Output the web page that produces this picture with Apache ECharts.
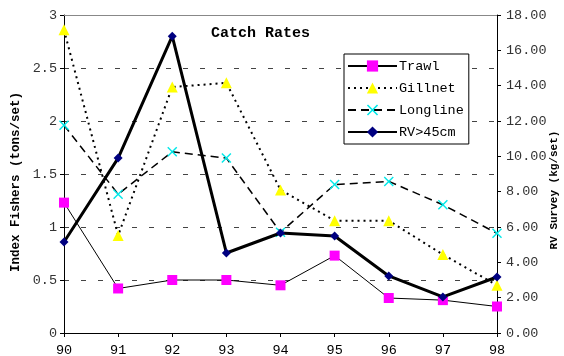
<!DOCTYPE html>
<html>
<head>
<meta charset="utf-8">
<script src="https://cdn.jsdelivr.net/npm/echarts@6/dist/echarts.min.js"></script>
<style>
html, body { margin: 0; padding: 0; background: #fff; }
#catchRatesChart { width: 564px; height: 356px; }
</style>
</head>
<body>
<div id="catchRatesChart"></div>
<script>
var years = ['90', '91', '92', '93', '94', '95', '96', '97', '98'];
var trawl = [1.23, 0.42, 0.50, 0.50, 0.45, 0.73, 0.33, 0.31, 0.25];
var gillnet = [2.86, 0.92, 2.32, 2.36, 1.35, 1.06, 1.06, 0.74, 0.45];
var longline = [1.96, 1.31, 1.71, 1.65, 0.95, 1.40, 1.43, 1.21, 0.94];
var rvSurvey = [5.15, 9.9, 16.8, 4.53, 5.66, 5.49, 3.23, 2.04, 3.17];

var monoFont = 'Liberation Mono';
var xCross = 'path://M0,1L1,0L5,4L9,0L10,1L6,5L10,9L9,10L5,6L1,10L0,9L4,5Z';

var catchRatesChart = echarts.init(document.getElementById('catchRatesChart'));

var option = {
    backgroundColor: '#fff',
    animation: false,
    textStyle: {fontFamily: monoFont},
    title: {
        text: 'Catch Rates',
        left: 211,
        top: 26,
        padding: 0,
        textStyle: {fontFamily: monoFont, fontSize: 15, fontWeight: 'bold', color: '#000'}
    },
    legend: {
        orient: 'vertical',
        left: 344,
        top: 54,
        padding: [5, 5, 5, 3],
        itemWidth: 49,
        itemHeight: 14,
        itemGap: 8,
        backgroundColor: '#fff',
        borderColor: '#000',
        borderWidth: 1,
        textStyle: {fontFamily: monoFont, fontSize: 13.5, lineHeight: 14, color: '#000', padding: [0, 0, 0, -3]},
        data: ['Trawl', 'Gillnet', 'Longline', 'RV>45cm']
    },
    grid: {
        left: 64,
        right: 67,
        top: 15,
        bottom: 23,
        outerBoundsMode: 'none'
    },
    xAxis: {
        type: 'category',
        boundaryGap: false,
        data: years,
        axisLine: {lineStyle: {color: '#000', width: 1}},
        axisTick: {show: true, length: 4, lineStyle: {color: '#000'}},
        axisLabel: {fontFamily: monoFont, fontSize: 13.5, color: '#000', margin: 10}
    },
    yAxis: [
        {
            type: 'value',
            min: 0,
            max: 3,
            interval: 0.5,
            name: 'Index Fishers (tons/set)',
            nameLocation: 'middle',
            nameGap: 42,
            nameRotate: 90,
            nameMoveOverlap: false,
            nameTextStyle: {
                fontFamily: monoFont, fontSize: 12.5, fontWeight: 'bold', color: '#000',
                padding: [0, 16, 0, 0]
            },
            axisLine: {show: true, lineStyle: {color: '#000', width: 1}},
            axisTick: {show: true, length: 4, lineStyle: {color: '#000'}},
            axisLabel: {fontFamily: monoFont, fontSize: 13.5, color: '#333', margin: 7},
            splitLine: {show: true, lineStyle: {color: '#444', type: [5, 12], width: 1}}
        },
        {
            type: 'value',
            min: 0,
            max: 18,
            interval: 2,
            name: 'RV Survey (kg/set)',
            nameLocation: 'middle',
            nameGap: 52,
            nameRotate: 90,
            nameMoveOverlap: false,
            nameTextStyle: {
                fontFamily: monoFont, fontSize: 11, fontWeight: 'bold', color: '#000',
                padding: [0, 32, 0, 0]
            },
            axisLine: {show: true, lineStyle: {color: '#000', width: 1}},
            axisTick: {show: true, length: 4, lineStyle: {color: '#000'}},
            axisLabel: {
                fontFamily: monoFont, fontSize: 13.5, color: '#333', margin: 9,
                formatter: function (v) { return v.toFixed(2); }
            },
            splitLine: {show: false}
        }
    ],
    series: [
        {
            name: 'Trawl',
            type: 'line',
            data: trawl,
            symbol: 'rect',
            symbolSize: 10,
            itemStyle: {color: '#ff00ff'},
            lineStyle: {color: '#000', width: 1},
            markLine: {
                silent: true,
                symbol: 'none',
                label: {show: false},
                lineStyle: {color: '#888', type: 'solid', width: 1},
                data: [{yAxis: 3}]
            },
            z: 3
        },
        {
            name: 'Gillnet',
            type: 'line',
            data: gillnet,
            symbol: 'triangle',
            symbolSize: 11,
            itemStyle: {color: '#ffff00'},
            lineStyle: {color: '#000', width: 2, type: [2, 4]},
            z: 3
        },
        {
            name: 'Longline',
            type: 'line',
            data: longline,
            symbol: xCross,
            symbolSize: 10,
            itemStyle: {color: '#00e8e8'},
            lineStyle: {color: '#000', width: 1.5, type: [8, 5]},
            z: 3
        },
        {
            name: 'RV>45cm',
            type: 'line',
            yAxisIndex: 1,
            data: rvSurvey,
            symbol: 'diamond',
            symbolSize: 9,
            itemStyle: {color: '#000080'},
            lineStyle: {color: '#000', width: 3},
            z: 4
        }
    ]
};
catchRatesChart.setOption(option);
</script>
</body>
</html>
